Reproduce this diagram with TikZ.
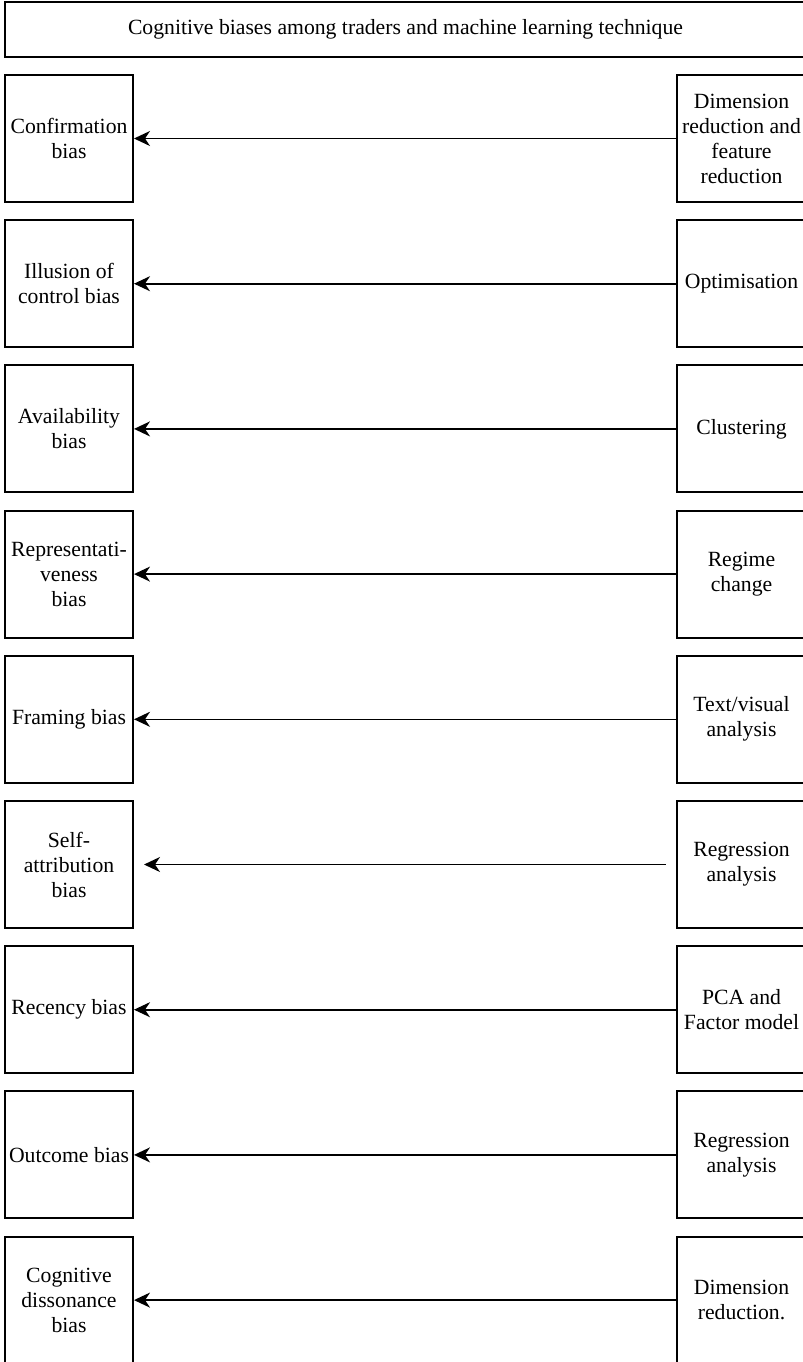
\documentclass[tikz,border=0pt]{standalone}
\usepackage{fontspec}
\setmainfont{Liberation Serif}
\usetikzlibrary{arrows.meta}

\begin{document}
\begin{tikzpicture}[x=0.5pt, y=-0.5pt,
    box/.style={draw, line width=1pt, inner sep=0pt, align=center,
        font=\fontsize{10.85}{12.5}\selectfont},
    bias/.style={box, minimum width=64pt, minimum height=63.5pt},
    tech/.style={box, minimum width=65pt, minimum height=63.5pt},
    link/.style={-{Stealth[length=8pt, width=7.5pt, inset=2.5pt]}, line width=0.8pt}]
    \useasboundingbox (0,0) rectangle (803,1362);
    \node[box, minimum width=400.5pt, minimum height=27.5pt] (title) at (405.5,29.5)
        {Cognitive biases among traders and machine learning technique};
    % bias on the left, technique on the right
    \foreach \i/\lft/\rgt/\gap in {
        0/{Confirmation\\bias}/{Dimension\\reduction and\\feature\\reduction}/0,
        1/{Illusion of\\control bias}/{Optimisation}/0,
        2/{Availability\\bias}/{Clustering}/0,
        3/{Representati-\\veness\\bias}/{Regime\\change}/0,
        4/{Framing bias}/{Text/visual\\analysis}/0,
        5/{Self-\\attribution\\bias}/{Regression\\analysis}/5,
        6/{Recency bias}/{PCA and\\Factor model}/0,
        7/{Outcome bias}/{Regression\\analysis}/0,
        8/{Cognitive\\dissonance\\bias}/{Dimension\\reduction.}/0} {
        \node[bias] (b\i) at (69,138.5+145.2*\i) {\lft};
        \node[tech] (t\i) at (741.5,138.5+145.2*\i) {\rgt};
        \draw[link, shorten <=\gap pt, shorten >=\gap pt] (t\i.west) -- (b\i.east);
    }
\end{tikzpicture}
\end{document}
